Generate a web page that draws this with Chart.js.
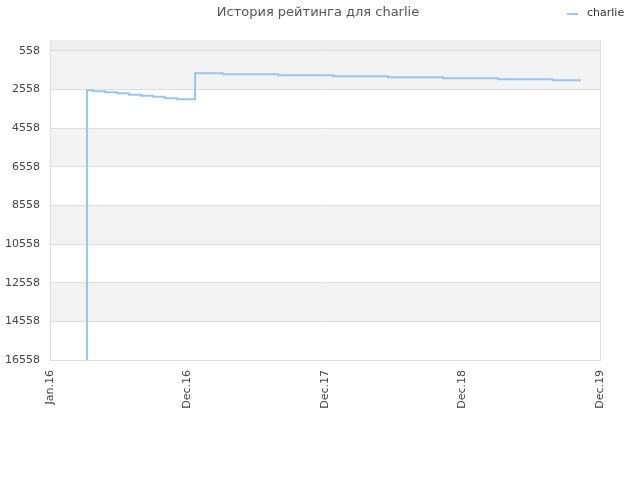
<!DOCTYPE html>
<html>
<head>
<meta charset="utf-8">
<script src="https://cdn.jsdelivr.net/npm/chart.js@4"></script>
<style>
  html, body { margin: 0; padding: 0; background: #fff; }
  #wrap { width: 640px; height: 480px; }
</style>
</head>
<body>
<div id="wrap"><canvas id="ratingChart" width="640" height="480"></canvas></div>
<script>
// Rating history data (x in label intervals, rating values)
var xLabels = ["Jan.16", "Dec.16", "Dec.17", "Dec.18", "Dec.19"];
var yTicks = [558, 2558, 4558, 6558, 8558, 10558, 12558, 14558, 16558];
var stepX = [0.269, 0.269, 0.313, 0.4, 0.487, 0.575, 0.662, 0.749, 0.836, 0.924, 1.055, 1.258, 1.658, 2.058, 2.458, 2.858, 3.258, 3.658, 3.862];
var rating = [16558, 2587, 2639, 2690, 2742, 2820, 2872, 2934, 3001, 3053, 1707, 1759, 1811, 1863, 1914, 1966, 2018, 2070, 2070];

var points = [];
for (var i = 0; i < stepX.length; i++) {
    points.push({ x: stepX[i], y: rating[i] });
}

var lineColor = '#99c5f1';

// Alternating grey bands + title + legend
var decorPlugin = {
    id: 'decor',
    beforeDraw: function (chart) {
        var ctx = chart.ctx;
        var area = chart.chartArea;
        var y = chart.scales.y;
        ctx.save();
        // area above first tick
        var first = y.getPixelForValue(yTicks[0]);
        ctx.fillStyle = '#eeeeee';
        ctx.fillRect(area.left, area.top, area.right - area.left, first - area.top);
        for (var i = 0; i < yTicks.length - 1; i++) {
            if (i % 2 == 0) {
                var a = y.getPixelForValue(yTicks[i]);
                var b = y.getPixelForValue(yTicks[i + 1]);
                ctx.fillStyle = '#f3f3f3';
                ctx.fillRect(area.left, a, area.right - area.left, b - a);
            }
        }
        ctx.restore();
    },
    afterDraw: function (chart) {
        var ctx = chart.ctx;
        ctx.save();
        ctx.fillStyle = '#555555';
        ctx.font = '13px "DejaVu Sans"';
        ctx.textAlign = 'center';
        ctx.textBaseline = 'middle';
        ctx.fillText('История рейтинга для charlie', 318, 13);
        // legend
        ctx.strokeStyle = lineColor;
        ctx.lineWidth = 2;
        ctx.beginPath();
        ctx.moveTo(567, 14);
        ctx.lineTo(578, 14);
        ctx.stroke();
        ctx.fillStyle = '#333333';
        ctx.font = '11px "DejaVu Sans"';
        ctx.textAlign = 'left';
        ctx.fillText('charlie', 587, 13);
        ctx.restore();
    }
};

var ctx = document.getElementById('ratingChart').getContext('2d');
var myChart = new Chart(ctx, {
    type: 'line',
    data: {
        datasets: [{
            label: 'charlie',
            data: points,
            borderColor: lineColor,
            borderWidth: 2,
            pointRadius: 0,
            stepped: 'before',
            fill: false
        }]
    },
    options: {
        responsive: false,
        animation: false,
        layout: { padding: { top: 40, right: 40, left: 0, bottom: 0 } },
        plugins: {
            legend: { display: false },
            title: { display: false },
            tooltip: { enabled: false }
        },
        scales: {
            x: {
                type: 'linear',
                min: 0,
                max: 4,
                afterFit: function (scale) { scale.height = 120; },
                afterBuildTicks: function (scale) {
                    scale.ticks = xLabels.map(function (l, i) { return { value: i }; });
                },
                ticks: {
                    autoSkip: false,
                    maxRotation: 90,
                    minRotation: 90,
                    padding: 10,
                    color: '#444444',
                    font: { family: 'DejaVu Sans', size: 11 },
                    callback: function (v) { return xLabels[v]; }
                },
                grid: { display: false, drawTicks: false },
                border: { color: '#dddddd' }
            },
            y: {
                type: 'linear',
                reverse: true,
                min: -10,
                max: 16558,
                afterFit: function (scale) { scale.width = 50; },
                afterBuildTicks: function (scale) {
                    scale.ticks = yTicks.map(function (v) { return { value: v }; });
                },
                ticks: {
                    color: '#444444',
                    padding: 10,
                    font: { family: 'DejaVu Sans', size: 11 },
                    callback: function (v) { return String(v); }
                },
                grid: { color: '#dddddd', drawTicks: false },
                border: { color: '#dddddd' }
            },
            y2: {
                position: 'right',
                display: true,
                min: 0,
                max: 1,
                ticks: { display: false },
                grid: { display: false, drawTicks: false },
                border: { color: '#dddddd' },
                afterFit: function (scale) { scale.width = 0; }
            }
        }
    },
    plugins: [decorPlugin]
});
</script>
</body>
</html>
